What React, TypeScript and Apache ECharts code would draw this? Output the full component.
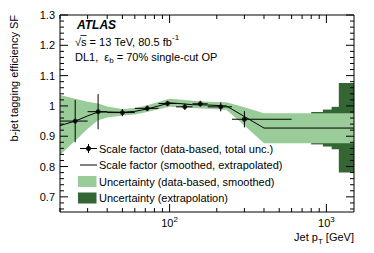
import { useEffect, useRef } from 'react';
import * as echarts from 'echarts';

// ---- data ----
const ptLow = [20, 30, 40, 60, 85, 110, 140, 175, 250];
const ptHigh = [30, 40, 60, 85, 110, 140, 175, 250, 600];
const ptCenter = [25, 35, 50, 72, 97, 125, 157, 212, 300];
const sfValue = [0.95, 0.981, 0.978, 0.992, 1.008, 0.997, 1.007, 0.997, 0.956];
const sfError = [0.07, 0.058, 0.012, 0.009, 0.009, 0.01, 0.01, 0.015, 0.027];

const smoothPt = [20, 25, 30, 35, 40, 50, 60, 72, 85, 100, 115, 140, 175, 230, 300, 400, 1500];
const smoothSF = [0.935, 0.95, 0.967, 0.98, 0.98, 0.979, 0.982, 0.99, 1.0, 1.01, 1.008, 1.004, 1.003, 1.0, 0.965, 0.927, 0.927];

const bandPt = [20, 25, 30, 35, 40, 50, 60, 72, 85, 100, 115, 140, 175, 230, 300, 400, 1500];
const bandLow = [0.838, 0.885, 0.925, 0.953, 0.962, 0.968, 0.972, 0.98, 0.989, 0.997, 0.996, 0.993, 0.991, 0.987, 0.935, 0.877, 0.877];
const bandHigh = [1.036, 1.024, 1.014, 1.008, 0.998, 0.99, 0.993, 1.002, 1.013, 1.024, 1.021, 1.017, 1.014, 1.012, 0.996, 0.976, 0.976];

const extrapEdges = [800, 950, 1080, 1200, 1500];
const extrapLow = [0.873, 0.866, 0.857, 0.78];
const extrapHigh = [0.98, 0.988, 0.997, 1.076];

const yMajorTicks = [0.7, 0.8, 0.9, 1, 1.1, 1.2, 1.3];
const xMajorTicks = [100, 1000];
const xMinorTicks = [20, 30, 40, 50, 60, 70, 80, 90, 200, 300, 400, 500, 600, 700, 800, 900];

const X_MIN = 20;
const X_MAX = 1500;
const Y_MIN = 0.65;
const Y_MAX = 1.3;

const LIGHT = '#99cc99';
const DARK = '#336633';
const FONT = 'Liberation Sans';

function yMinorTicks(): number[] {
  const out: number[] = [];
  for (let k = 33; k <= 65; k++) {
    const v = k / 50;
    if (!yMajorTicks.some((m) => Math.abs(m - v) < 1e-9)) out.push(v);
  }
  return out;
}

const richBase = {
  n: { fontSize: 11, fontFamily: FONT, lineHeight: 16, color: '#000', fill: '#000' },
  sup: { fontSize: 8, fontFamily: FONT, lineHeight: 8, verticalAlign: 'top', color: '#000', fill: '#000' },
  sub: { fontSize: 8, fontFamily: FONT, lineHeight: 8, verticalAlign: 'bottom', color: '#000', fill: '#000' },
};

function txt(x: number, y: number, text: string, extra: any = {}) {
  return {
    type: 'text',
    x,
    y,
    z: 100,
    style: {
      text,
      rich: richBase,
      fontSize: 11,
      fontFamily: FONT,
      fill: '#000',
      align: 'left',
      textAlign: 'left',
      verticalAlign: 'middle',
      textVerticalAlign: 'middle',
      ...extra,
    },
  };
}

export default function App() {
  const ref = useRef<HTMLDivElement>(null);

  useEffect(() => {
    if (!ref.current) return;
    const chart = echarts.init(ref.current, undefined, { renderer: 'svg' });

    const line = (x1: number, y1: number, x2: number, y2: number) => ({
      type: 'line',
      shape: { x1, y1, x2, y2 },
      style: { stroke: '#000', lineWidth: 1 },
    });

    const tickData: number[][] = [];
    yMajorTicks.forEach((v) => tickData.push([X_MIN, v, 0, 8]));
    yMinorTicks().forEach((v) => tickData.push([X_MIN, v, 0, 4]));
    xMajorTicks.forEach((p) => tickData.push([p, Y_MIN, 1, 8]));
    xMinorTicks.forEach((p) => tickData.push([p, Y_MIN, 1, 4]));

    const legendY = [148.5, 165, 181.5, 198];
    const lx1 = 80;
    const lx2 = 97;

    const option: any = {
      animation: false,
      grid: { left: 60, right: 20, top: 15, bottom: 41, show: false, outerBoundsMode: 'none' },
      xAxis: {
        type: 'log',
        logBase: 10,
        min: X_MIN,
        max: X_MAX,
        axisLine: { show: false },
        axisTick: { show: false },
        splitLine: { show: false },
        minorTick: { show: false },
        axisLabel: {
          margin: 3,
          showMinLabel: false,
          showMaxLabel: false,
          formatter: (v: number) => {
            const l = Math.log10(v);
            const r = Math.round(l);
            if (Math.abs(l - r) > 1e-6 || !xMajorTicks.includes(Math.pow(10, r))) return '';
            return '{n|10}{sup|' + r + '}';
          },
          rich: richBase,
          color: '#000',
        },
      },
      yAxis: {
        type: 'value',
        min: Y_MIN,
        max: Y_MAX,
        interval: 0.05,
        axisLine: { show: false },
        axisTick: { show: false },
        splitLine: { show: false },
        axisLabel: {
          margin: 5,
          fontSize: 11,
          fontFamily: FONT,
          color: '#000',
          formatter: (v: number) => {
            const m = yMajorTicks.find((t) => Math.abs(t - v) < 1e-6);
            return m === undefined ? '' : String(m);
          },
        },
      },
      series: [
        {
          type: 'custom',
          name: 'Uncertainty (extrapolation)',
          z: 1,
          silent: true,
          clip: true,
          data: [[100, 1]],
          renderItem: (_p: any, api: any) => {
            const children: any[] = [];
            for (let i = 0; i < extrapLow.length; i++) {
              const a = api.coord([extrapEdges[i], extrapHigh[i]]);
              const b = api.coord([extrapEdges[i + 1], extrapLow[i]]);
              children.push({
                type: 'rect',
                shape: { x: a[0], y: a[1], width: b[0] - a[0] + 0.5, height: b[1] - a[1] },
                style: { fill: DARK },
              });
            }
            return { type: 'group', children };
          },
        },
        {
          type: 'custom',
          name: 'Uncertainty (data-based, smoothed)',
          z: 2,
          silent: true,
          clip: true,
          data: [[100, 1]],
          renderItem: (_p: any, api: any) => {
            const pts: number[][] = [];
            for (let i = 0; i < bandPt.length; i++) pts.push(api.coord([bandPt[i], bandHigh[i]]));
            for (let i = bandPt.length - 1; i >= 0; i--) pts.push(api.coord([bandPt[i], bandLow[i]]));
            return { type: 'polygon', shape: { points: pts }, style: { fill: LIGHT } };
          },
        },
        {
          type: 'line',
          name: 'Scale factor (smoothed, extrapolated)',
          z: 3,
          symbol: 'none',
          silent: true,
          lineStyle: { color: '#000', width: 1 },
          data: smoothPt.map((p, i) => [p, smoothSF[i]]),
        },
        {
          type: 'custom',
          name: 'errors',
          z: 4,
          silent: true,
          clip: true,
          data: ptCenter.map((p, i) => [p, sfValue[i], ptLow[i], ptHigh[i], sfError[i]]),
          renderItem: (_p: any, api: any) => {
            const x = api.value(0);
            const y = api.value(1);
            const lo = api.value(2);
            const hi = api.value(3);
            const e = api.value(4);
            const l = api.coord([lo, y]);
            const r = api.coord([hi, y]);
            const t = api.coord([x, y + e]);
            const b = api.coord([x, y - e]);
            return {
              type: 'group',
              children: [line(l[0], l[1], r[0], r[1]), line(t[0], t[1], b[0], b[1])],
            };
          },
        },
        {
          type: 'scatter',
          name: 'Scale factor (data-based, total unc.)',
          z: 5,
          symbol: 'circle',
          symbolSize: 5,
          silent: true,
          itemStyle: { color: '#000' },
          data: ptCenter.map((p, i) => [p, sfValue[i]]),
        },
        {
          type: 'custom',
          name: 'ticks',
          z: 6,
          silent: true,
          clip: false,
          data: tickData,
          renderItem: (_p: any, api: any) => {
            const kind = api.value(2);
            const len = api.value(3);
            if (kind === 0) {
              const v = api.value(1);
              const a = api.coord([X_MIN, v]);
              const b = api.coord([X_MAX, v]);
              return {
                type: 'group',
                children: [line(a[0], a[1], a[0] + len, a[1]), line(b[0], b[1], b[0] - len, b[1])],
              };
            }
            const p = api.value(0);
            const a = api.coord([p, Y_MIN]);
            const b = api.coord([p, Y_MAX]);
            return {
              type: 'group',
              children: [line(a[0], a[1], a[0], a[1] - len), line(b[0], b[1], b[0], b[1] + len)],
            };
          },
        },
        {
          type: 'custom',
          name: 'frame',
          z: 7,
          silent: true,
          clip: false,
          data: [[100, 1]],
          renderItem: (_p: any, api: any) => {
            const a = api.coord([X_MIN, Y_MAX]);
            const b = api.coord([X_MAX, Y_MIN]);
            return {
              type: 'rect',
              shape: { x: a[0], y: a[1], width: b[0] - a[0], height: b[1] - a[1] },
              style: { fill: 'none', stroke: '#000', lineWidth: 1 },
            };
          },
        },
      ],
      graphic: [
        {
          type: 'text',
          x: 14,
          y: 15,
          rotation: Math.PI / 2,
          z: 100,
          style: {
            text: 'b-jet tagging efficiency SF',
            fontSize: 11,
            fontFamily: FONT,
            fill: '#000',
            align: 'right',
            textAlign: 'right',
            verticalAlign: 'middle',
            textVerticalAlign: 'middle',
          },
        },
        txt(354, 237, '{n|Jet p}{sub|T}{n| [GeV]}', { align: 'right', textAlign: 'right' }),
        {
          type: 'text',
          x: 77,
          y: 25,
          z: 100,
          style: {
            text: 'ATLAS',
            fontSize: 12,
            fontWeight: 'bold',
            fontStyle: 'italic',
            fontFamily: FONT,
            fill: '#000',
            align: 'left',
            textAlign: 'left',
            verticalAlign: 'middle',
            textVerticalAlign: 'middle',
          },
        },
        txt(75, 41.5, '{n|√s = 13 TeV, 80.5 fb}{sup|-1}'),
        { type: 'line', z: 100, shape: { x1: 80.5, y1: 35.5, x2: 86.5, y2: 35.5 }, style: { stroke: '#000', lineWidth: 0.8 } },
        txt(75, 56.5, '{n|DL1,  ε}{sub|b}{n| = 70% single-cut OP}'),
        // legend
        { type: 'line', z: 100, shape: { x1: lx1, y1: legendY[0], x2: lx2, y2: legendY[0] }, style: { stroke: '#000', lineWidth: 1 } },
        { type: 'line', z: 100, shape: { x1: 88.5, y1: legendY[0] - 4.5, x2: 88.5, y2: legendY[0] + 4.5 }, style: { stroke: '#000', lineWidth: 1 } },
        { type: 'circle', z: 101, shape: { cx: 88.5, cy: legendY[0], r: 2.5 }, style: { fill: '#000' } },
        txt(99, legendY[0], 'Scale factor (data-based, total unc.)'),
        { type: 'line', z: 100, shape: { x1: lx1, y1: legendY[1], x2: lx2, y2: legendY[1] }, style: { stroke: '#000', lineWidth: 1 } },
        txt(99, legendY[1], 'Scale factor (smoothed, extrapolated)'),
        { type: 'rect', z: 100, shape: { x: 78, y: legendY[2] - 5.5, width: 18.5, height: 11 }, style: { fill: LIGHT } },
        txt(99, legendY[2], 'Uncertainty (data-based, smoothed)'),
        { type: 'rect', z: 100, shape: { x: 78, y: legendY[3] - 5.5, width: 18.5, height: 11 }, style: { fill: DARK } },
        txt(99, legendY[3], 'Uncertainty (extrapolation)'),
      ],
    };

    chart.setOption(option);
    return () => chart.dispose();
  }, []);

  return (
    <div
      ref={ref}
      style={{ position: 'fixed', left: 0, top: 0, width: 374, height: 253, background: '#fff' }}
    />
  );
}
